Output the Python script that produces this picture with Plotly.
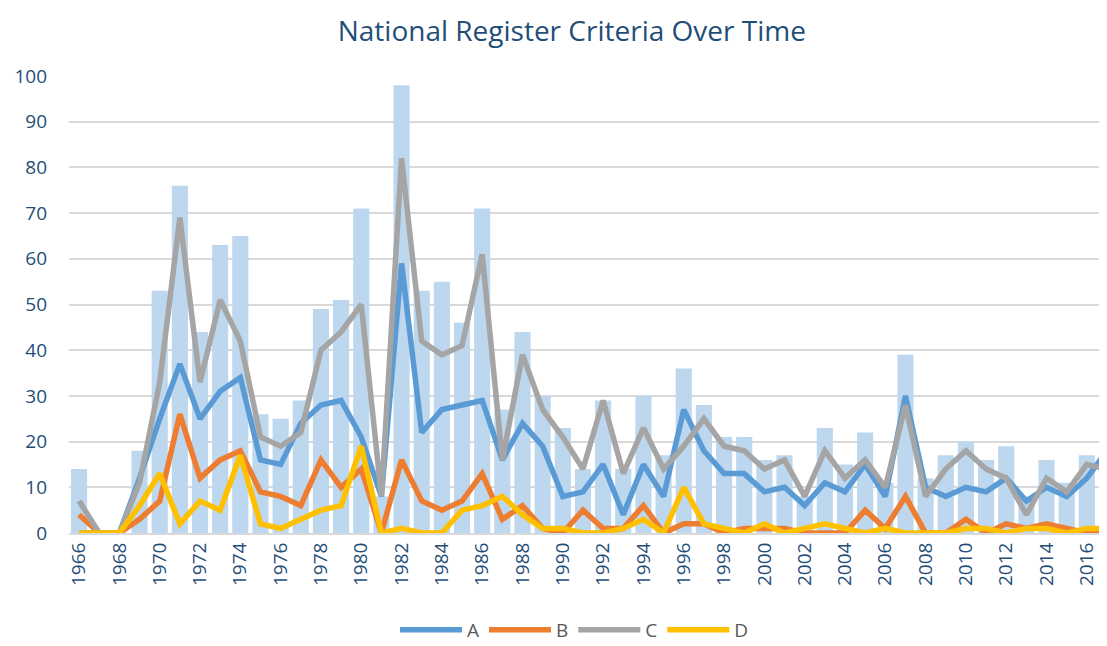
import plotly.graph_objects as go

years = list(range(1966, 2018))
total = [14, 0, 0, 18, 53, 76, 44, 63, 65, 26, 25, 29, 49, 51, 71, 8,
         98, 53, 55, 46, 71, 27, 44, 30, 23, 14, 29, 14, 30, 17,
         36, 28, 21, 21, 16, 17, 8, 23, 15, 22, 11, 39, 12, 17, 20, 16, 19, 8, 16, 11, 17, 19]
a_vals = [0, 0, 0, 12, 25, 37, 25, 31, 34, 16, 15, 24, 28, 29, 21, 8,
          59, 22, 27, 28, 29, 16, 24, 19, 8, 9, 15, 4, 15, 8,
          27, 18, 13, 13, 9, 10, 6, 11, 9, 15, 8, 30, 10, 8, 10, 9, 12, 7, 10, 8, 12, 18]
b_vals = [4, 0, 0, 3, 7, 26, 12, 16, 18, 9, 8, 6, 16, 10, 14, 0,
          16, 7, 5, 7, 13, 3, 6, 1, 0, 5, 1, 1, 6, 0,
          2, 2, 0, 1, 1, 1, 0, 0, 0, 5, 1, 8, 0, 0, 3, 0, 2, 1, 2, 1, 0, 0]
c_vals = [7, 0, 0, 11, 33, 69, 33, 51, 42, 21, 19, 22, 40, 44, 50, 8,
          82, 42, 39, 41, 61, 16, 39, 27, 21, 14, 29, 13, 23, 14,
          19, 25, 19, 18, 14, 16, 8, 18, 12, 16, 10, 28, 8, 14, 18, 14, 12, 4, 12, 9, 15, 14]
d_vals = [0, 0, 0, 6, 13, 2, 7, 5, 17, 2, 1, 3, 5, 6, 19, 0,
          1, 0, 0, 5, 6, 8, 4, 1, 1, 0, 0, 1, 3, 0,
          10, 2, 1, 0, 2, 0, 1, 2, 1, 0, 1, 0, 0, 0, 1, 1, 0, 1, 1, 0, 1, 1]

series = [("A", a_vals, "#5b9bd5"), ("B", b_vals, "#ed7d31"),
          ("C", c_vals, "#a5a5a5"), ("D", d_vals, "#ffc000")]
tick_years = list(range(1966, 2018, 2))

fig = go.Figure()
fig.add_trace(go.Bar(x=years, y=total, marker=dict(color="#bdd7ee", line=dict(width=0)),
                     showlegend=False, name="Total"))
for name, vals, col in series:
    fig.add_trace(go.Scatter(x=years, y=vals, mode="lines", name=name,
                             line=dict(color=col, width=5.5)))

# page body has an 8px default margin, so the figure is 8px smaller and offset
fig.update_layout(
    width=1099, height=638,
    paper_bgcolor="white", plot_bgcolor="white",
    margin=dict(l=61, r=0, t=68, b=113, autoexpand=False),
    bargap=0.2,
    font=dict(family="Open Sans", color="#1f4e79"),
    title=dict(text="National Register Criteria Over Time", x=0.513, xanchor="center",
               y=0.963, yanchor="middle", font=dict(size=28, color="#1f4e79")),
    legend=dict(orientation="h", x=0.487, xanchor="center", y=-0.212, yanchor="middle",
                font=dict(size=19, color="#595959"), itemwidth=62, traceorder="normal",
                borderwidth=0, bgcolor="rgba(0,0,0,0)"),
    xaxis=dict(range=[1965.5, 2017.0], tickmode="array", tickvals=tick_years,
               ticktext=[str(t) for t in tick_years], tickangle=-90,
               tickfont=dict(size=19, color="#1f4e79"), showgrid=False, automargin=False,
               showline=True, linecolor="#d9d9d9", linewidth=2, ticks="", zeroline=False),
    yaxis=dict(range=[0, 100], dtick=10, tickfont=dict(size=19, color="#1f4e79"),
               gridcolor="#d9d9d9", gridwidth=2, zeroline=False, ticks="", automargin=False,
               ticklabelstandoff=21, fixedrange=True),
)
fig.write_html("out.html")
